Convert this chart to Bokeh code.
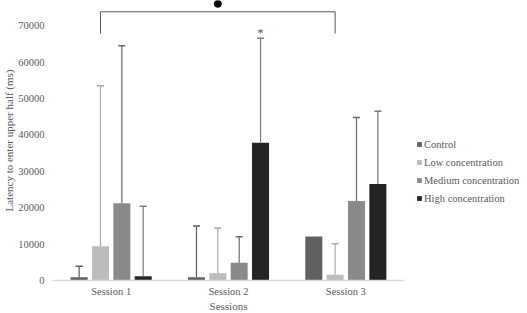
from bokeh.plotting import figure
from bokeh.models import (ColumnDataSource, Range1d, FixedTicker, Legend, LegendItem)
from bokeh.transform import dodge
from bokeh.core.properties import value
from bokeh.embed import file_html
from bokeh.resources import INLINE

sessions = ["Session 1", "Session 2", "Session 3"]
series = ["Control", "Low concentration", "Medium concentration", "High concentration"]
control = [900, 900, 12100]
control_err = [3000, 14100, 0]
low = [9400, 2000, 1600]
low_err = [44100, 12400, 8500]
medium = [21200, 4900, 21800]
medium_err = [43300, 7100, 23000]
high = [1200, 37800, 26500]
high_err = [19200, 28700, 20000]
y_ticks = [0, 10000, 20000, 30000, 40000, 50000, 60000, 70000]
star_label = "*"

colors = ["#606060", "#bcbcbc", "#8a8a8a", "#242424"]
err_colors = ["#5a5a5a", "#a8a8a8", "#6a6a6a", "#7a7a7a"]
offsets = [-0.273, -0.091, 0.091, 0.273]
FONT = "Liberation Serif"
TXT = "#595959"

p = figure(frame_width=352, frame_height=280, x_range=sessions,
           y_range=Range1d(0, 76900), output_backend="svg", toolbar_location=None,
           min_border_left=52, min_border_right=123, min_border_top=0, min_border_bottom=33)
p.outline_line_color = None
p.xgrid.grid_line_color = None
p.ygrid.grid_line_color = None

vals = [control, low, medium, high]
errs = [control_err, low_err, medium_err, high_err]
items = []
for i, name in enumerate(series):
    src = ColumnDataSource(dict(session=sessions, v=vals[i]))
    r = p.vbar(x=dodge("session", offsets[i], range=p.x_range), top="v", width=0.145,
               source=src, fill_color=colors[i], line_color=None)
    items.append(LegendItem(label=name, renderers=[r]))
    xs, lo, up = [], [], []
    for s, v, e in zip(sessions, vals[i], errs[i]):
        if e > 0:
            xs.append(s); lo.append(v); up.append(v + e)
    esrc = ColumnDataSource(dict(session=xs, lower=lo, upper=up))
    p.segment(x0=dodge("session", offsets[i], range=p.x_range), y0="lower",
              x1=dodge("session", offsets[i], range=p.x_range), y1="upper",
              source=esrc, line_color=err_colors[i], line_width=1.2)
    p.scatter(x=dodge("session", offsets[i], range=p.x_range), y="upper", source=esrc,
              marker="dash", size=7, line_color=err_colors[i], line_width=1.5)

# significance bracket: Session 1 Low vs Session 3 Low
bsrc = ColumnDataSource(dict(x0=["Session 1", "Session 3", "Session 1"],
                             x1=["Session 1", "Session 3", "Session 3"],
                             y0=[67800, 67800, 73800], y1=[73800, 73800, 73800]))
p.segment(x0=dodge("x0", offsets[1], range=p.x_range), x1=dodge("x1", offsets[1], range=p.x_range),
          y0="y0", y1="y1", source=bsrc, line_color="#595959", line_width=1)
dsrc = ColumnDataSource(dict(x=["Session 2"], y=[76000]))
p.scatter(x=dodge("x", offsets[1], range=p.x_range), y="y", source=dsrc, size=7,
          fill_color="black", line_color="black")
ssrc = ColumnDataSource(dict(x=["Session 2"], y=[high[1] + high_err[1] + 1700], t=[star_label]))
p.text(x=dodge("x", offsets[3], range=p.x_range), y="y", text="t", source=ssrc,
       text_font=value(FONT), text_font_size="13px", text_color=TXT,
       text_align="center", text_baseline="middle")

for ax in (p.xaxis[0], p.yaxis[0]):
    ax.major_tick_line_color = None
    ax.minor_tick_line_color = None
    ax.major_tick_out = 0
    ax.major_tick_in = 0
    ax.minor_tick_out = 0
    ax.minor_tick_in = 0
    ax.major_label_text_font = FONT
    ax.major_label_text_font_size = "10.5px"
    ax.major_label_text_color = TXT
    ax.axis_label_text_font = FONT
    ax.axis_label_text_font_style = "normal"
    ax.axis_label_text_font_size = "11px"
    ax.axis_label_text_color = TXT

p.yaxis.ticker = FixedTicker(ticks=y_ticks)
p.yaxis.axis_line_color = None
p.yaxis.major_label_standoff = 8
p.yaxis.axis_label = "Latency to enter upper half (ms)"
p.yaxis.axis_label_standoff = 0

p.xaxis.axis_line_color = "#d9d9d9"
p.xaxis.axis_line_width = 1.5
p.xaxis.major_label_standoff = 5
p.xaxis.axis_label = "Sessions"
p.xaxis.axis_label_standoff = 0

legend = Legend(items=items, location=(12, 76), border_line_color=None,
                background_fill_alpha=0, glyph_width=6, glyph_height=6,
                label_standoff=2, label_height=12, spacing=6, padding=2,
                label_text_font=FONT, label_text_font_size="10.5px", label_text_color=TXT)
p.add_layout(legend, "right")

open("out.html", "w").write(file_html(p, INLINE))
